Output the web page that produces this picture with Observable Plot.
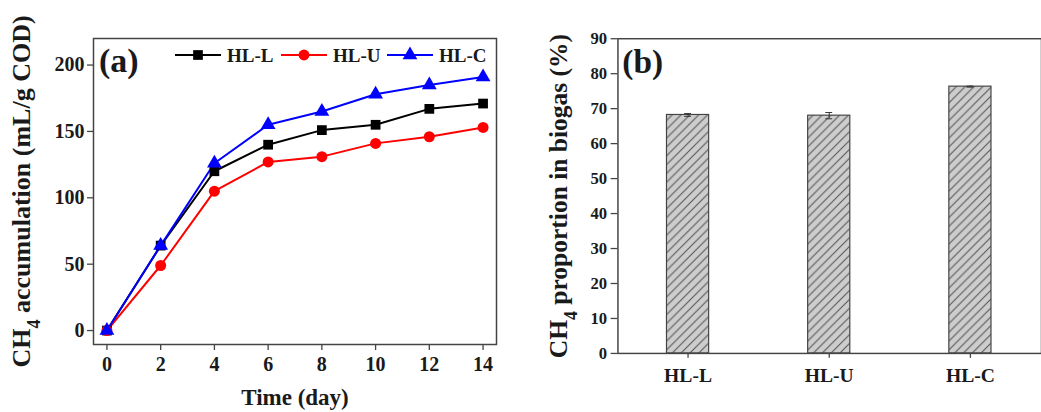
<!DOCTYPE html>
<html>
<head>
<meta charset="utf-8">
<script src="https://cdn.jsdelivr.net/npm/d3@7"></script>
<script src="https://cdn.jsdelivr.net/npm/@observablehq/plot@0.6"></script>
<style>
  html, body { margin: 0; padding: 0; background: #fff; overflow: hidden; }
  #wrap { position: relative; width: 1041px; height: 412px; overflow: hidden; }
  #pa { position: absolute; left: 0; top: 0; }
  #pb { position: absolute; left: 540px; top: 0; }
</style>
</head>
<body>
<div id="wrap"><div id="pa"></div><div id="pb"></div></div>
<script>
// ---- Panel (a) data ----
const days = [0, 2, 4, 6, 8, 10, 12, 14];
const hlL = [0, 64, 120, 140, 151, 155, 167, 171];
const hlU = [0, 49, 105, 127, 131, 141, 146, 153];
const hlC = [0, 64, 126, 155, 165, 178, 185, 191];
const seriesNames = ["HL-L", "HL-U", "HL-C"];
const seriesColors = ["#000000", "#ff0000", "#0000ff"];
const seriesSymbols = ["square", "circle", "triangle"];
const yTicksA = [0, 50, 100, 150, 200];
const xTicksA = [0, 2, 4, 6, 8, 10, 12, 14];

// ---- Panel (b) data ----
const groups = ["HL-L", "HL-U", "HL-C"];
const proportion = [68.2, 68.0, 76.3];
const proportionErr = [0.4, 0.9, 0.15];
const yTicksB = [0, 10, 20, 30, 40, 50, 60, 70, 80, 90];

const FONT = '"Liberation Serif", "Times New Roman", "DejaVu Serif", serif';
const INK = "#1a1a1a";

const seriesValues = [hlL, hlU, hlC];
const lineData = seriesNames.flatMap((s, i) => days.map((d, j) => ({series: s, day: d, value: seriesValues[i][j]})));

function subLabel(svg, sel, before, sub, after, size) {
  const t = svg.querySelector(sel);
  if (!t) return;
  t.textContent = "";
  t.setAttribute("font-size", size);
  t.setAttribute("font-weight", "bold");
  t.setAttribute("fill", INK);
  const ns = "http://www.w3.org/2000/svg";
  const a = document.createElementNS(ns, "tspan"); a.textContent = before; t.appendChild(a);
  const b = document.createElementNS(ns, "tspan"); b.textContent = sub; b.setAttribute("baseline-shift", "sub"); b.setAttribute("font-size", "70%"); t.appendChild(b);
  const c = document.createElementNS(ns, "tspan"); c.textContent = after; t.appendChild(c);
}
// enlarge the tick labels of an axis ("x" or "y")
function sizeTicks(svg, axis, size) {
  svg.querySelectorAll("text").forEach(t => {
    const g = t.closest("g[aria-label]");
    const lab = g ? g.getAttribute("aria-label") : "";
    if (lab.startsWith(axis + "-axis") && lab.includes("tick")) {
      t.setAttribute("font-size", size);
      t.style.fontSize = size + "px";
      if (g) { g.setAttribute("font-size", size); g.style.fontSize = size + "px"; }
    }
  });
}

const plotA = Plot.plot({
  width: 540, height: 412,
  marginLeft: 93, marginRight: 44, marginTop: 38, marginBottom: 68,
  style: {fontFamily: FONT, fontWeight: "bold", fontSize: "20px", color: INK, background: "transparent"},
  x: {domain: [-0.5, 14.5]},
  y: {domain: [-10.5, 220]},
  color: {domain: seriesNames, range: seriesColors},
  symbol: {domain: seriesNames, range: seriesSymbols},
  marks: [
    Plot.frame({stroke: "#444", strokeWidth: 1.5}),
    Plot.axisY({ticks: yTicksA, tickSize: 6, tickPadding: 3, stroke: "#444", strokeWidth: 1.3, fontSize: 20,
      label: "CH4 accumulation (mL/g COD)", labelAnchor: "center", labelOffset: 82, labelArrow: "none"}),
    Plot.axisX({ticks: xTicksA, tickSize: 6, tickPadding: 6, stroke: "#444", strokeWidth: 1.3, fontSize: 20,
      label: "Time (day)", labelAnchor: "center", labelOffset: 60, labelArrow: "none"}),
    Plot.line(lineData, {x: "day", y: "value", z: "series", stroke: "series", strokeWidth: 2}),
    Plot.dot(lineData, {x: "day", y: "value", fill: "series", symbol: "series", r: 5.5})
  ]
});
document.getElementById("pa").appendChild(plotA);
{
  const svg = plotA.tagName.toLowerCase() === "svg" ? plotA : plotA.querySelector("svg");
  sizeTicks(svg, "y", 20);
  sizeTicks(svg, "x", 20);
  subLabel(svg, 'g[aria-label="y-axis label"] text', "CH", "4", " accumulation (mL/g COD)", 26);
  const xl = svg.querySelector('g[aria-label="x-axis label"] text');
  if (xl) { xl.setAttribute("font-size", 23); xl.setAttribute("fill", INK); }
  const s = d3.select(svg);
  s.append("text").attr("x", 99).attr("y", 72).attr("font-size", 34).attr("text-anchor", "start")
    .attr("font-family", FONT).attr("fill", INK).style("font-weight", "bold").text("(a)");
  // legend
  const leg = s.append("g").attr("font-family", FONT).attr("font-size", 19).attr("font-weight", "bold").attr("text-anchor", "start");
  const lx = [175, 281, 387];
  seriesNames.forEach((name, i) => {
    const x0 = lx[i];
    leg.append("line").attr("x1", x0).attr("x2", x0 + 46).attr("y1", 55).attr("y2", 55)
      .attr("stroke", seriesColors[i]).attr("stroke-width", 2);
    leg.append("path").attr("transform", `translate(${x0 + 23},55)`)
      .attr("d", d3.symbol(i === 0 ? d3.symbolSquare : i === 1 ? d3.symbolCircle : d3.symbolTriangle, Math.PI * 30)())
      .attr("fill", seriesColors[i]);
    leg.append("text").attr("x", x0 + 52).attr("y", 62).attr("fill", INK).text(name);
  });
}

// ---- Panel (b) ----
const barData = groups.map((g, i) => ({group: g, value: proportion[i], err: proportionErr[i]}));
const plotB = Plot.plot({
  width: 511, height: 412,
  marginLeft: 79, marginRight: 0, marginTop: 39, marginBottom: 52,
  style: {fontFamily: FONT, fontWeight: "bold", fontSize: "17px", color: INK, background: "transparent"},
  x: {domain: groups, paddingInner: 0.7, paddingOuter: 0.35},
  y: {domain: [0, 90]},
  marks: [
    Plot.barY(barData, {x: "group", y: "value", fill: "url(#hatchB)", stroke: "#444", strokeWidth: 1.2}),
    Plot.ruleX(barData, {x: "group", y1: d => d.value - d.err, y2: d => d.value + d.err, stroke: "#333", strokeWidth: 1}),
    Plot.tickY(barData, {x: "group", y: d => d.value + d.err, stroke: "#333", insetLeft: 18, insetRight: 18}),
    Plot.tickY(barData, {x: "group", y: d => d.value - d.err, stroke: "#333", insetLeft: 18, insetRight: 18}),
    Plot.frame({stroke: "#444", strokeWidth: 1.5}),
    Plot.axisY({ticks: yTicksB, tickSize: 7, tickPadding: 4, stroke: "#444", strokeWidth: 1.3, fontSize: 17,
      label: "CH4 proportion in biogas (%)", labelAnchor: "center", labelOffset: 70, labelArrow: "none"}),
    Plot.axisX({tickSize: 5, tickPadding: 10, stroke: "#444", strokeWidth: 1.3, fontSize: 20, label: null})
  ]
});
document.getElementById("pb").appendChild(plotB);
{
  const svg = plotB.tagName.toLowerCase() === "svg" ? plotB : plotB.querySelector("svg");
  sizeTicks(svg, "y", 17);
  sizeTicks(svg, "x", 20);
  const s = d3.select(svg);
  const defs = s.insert("defs", ":first-child");
  const w = 9;
  const p = defs.append("pattern").attr("id", "hatchB").attr("patternUnits", "userSpaceOnUse")
    .attr("width", w).attr("height", w);
  p.append("rect").attr("width", w).attr("height", w).attr("fill", "#cdcdcd");
  p.append("path").attr("d", `M0,${w} L${w},0 M${-w/2},${w/2} L${w/2},${-w/2} M${w/2},${w*1.5} L${w*1.5},${w/2}`)
    .attr("stroke", "#555").attr("stroke-width", 1.1);
  subLabel(svg, 'g[aria-label="y-axis label"] text', "CH", "4", " proportion in biogas (%)", 26);
  s.append("text").attr("x", 84).attr("y", 74).attr("font-size", 34).attr("text-anchor", "start")
    .attr("font-family", FONT).attr("fill", INK).style("font-weight", "bold").text("(b)");
}
</script>
</body>
</html>
